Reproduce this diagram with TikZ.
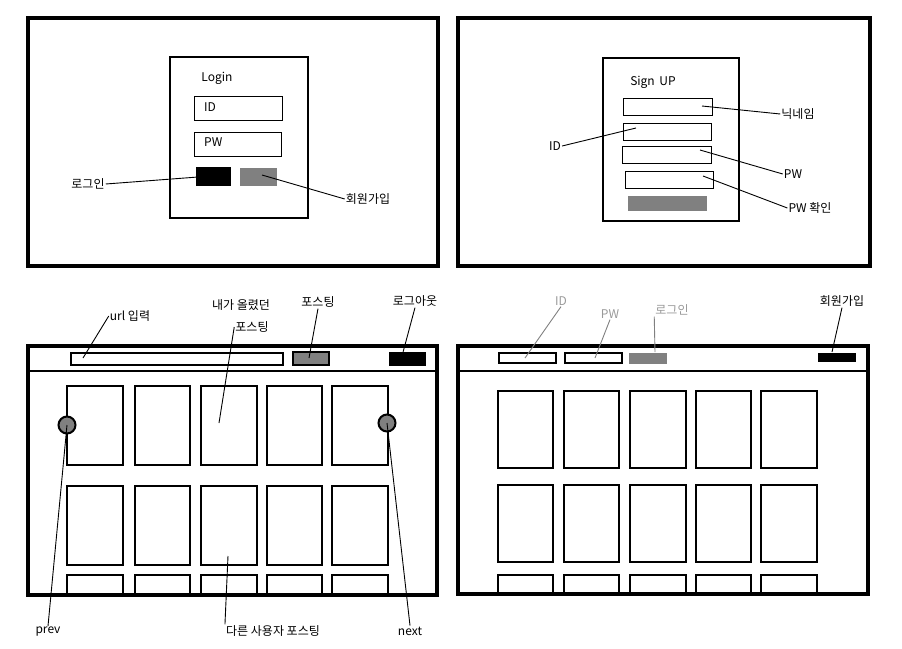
\documentclass[tikz,border=0pt]{standalone}
\usepackage{fontspec}
\setmainfont{Noto Sans CJK KR}
\begin{document}
\begin{tikzpicture}[x=1pt,y=-1pt,
  frame/.style={draw,line width=4pt},
  card/.style={draw,line width=2.8pt},
  thinbox/.style={draw,line width=1pt},
  lead/.style={draw,line width=0.9pt},
  lbl/.style={font=\fontsize{12}{13}\selectfont,inner sep=1pt},
  glbl/.style={lbl,text=gray!80}]
\useasboundingbox (0,0) rectangle (902,648);
% ---------- top-left
\draw[frame] (28,18) rectangle (438,266);
\draw[card] (170,57) rectangle (308,218);
\node[lbl] (login) at (217,78) {Login};
\draw[thinbox] (194,96) rectangle (282,120);
\node[lbl,anchor=west] at (203,107) {ID};
\draw[thinbox] (194,132) rectangle (281,156);
\node[lbl,anchor=west] at (203,142) {PW};
\fill (196,167) rectangle (231,186) coordinate (bb);
\fill[gray] (240,168) rectangle (277,186);
\node[lbl] (lg) at (88,184) {로그인};
\coordinate (lgb) at (198,177);
\draw[lead] (lg.east) -- (lgb);
\node[lbl] (join) at (368,199) {회원가입};
\coordinate (jb) at (262,175);
\draw[lead] (join.west) -- (jb);
% ---------- top-right
\draw[frame] (458,18) rectangle (870,266);
\draw[card] (603,58) rectangle (739,221);
\node[lbl] at (653,82) {Sign\, UP};
\draw[thinbox] (623,98) rectangle (712,115);
\draw[thinbox] (623,123) rectangle (711,140);
\draw[thinbox] (622,146) rectangle (711,163);
\draw[thinbox] (625,171) rectangle (713,188);
\fill[gray] (628,196) rectangle (707,211);
\node[lbl] (nick) at (798,114) {닉네임};
\coordinate (nb) at (702,106);
\draw[lead] (nb) -- (nick.west);
\node[lbl] (sid) at (555,146) {ID};
\coordinate (ib) at (636,128);
\draw[lead] (sid.east) -- (ib);
\node[lbl] (spw) at (793,174) {PW};
\coordinate (pb) at (700,150);
\draw[lead] (pb) -- (spw.west);
\node[lbl] (spw2) at (810,208) {PW 확인};
\coordinate (p2b) at (703,176);
\draw[lead] (p2b) -- (spw2.west);
% ---------- bottom-left
\draw[frame] (28,346) rectangle (437,595);
\draw[line width=2.5pt] (28,371) -- (437,371);
\draw[draw,line width=2.5pt] (71,353) rectangle (283,365);
\filldraw[fill=gray,line width=2.5pt] (293,352) rectangle (329,365);
\fill (389,352) rectangle (426,366);
\begin{scope}
\clip (28,346) rectangle (437,593);
\foreach \xa/\xb in {67/123,135/190,201/257,267/322,332/388}{
  \draw[card] (\xa,386) rectangle (\xb,465);
  \draw[card] (\xa,486) rectangle (\xb,565);
  \draw[card] (\xa,575) rectangle (\xb,640);
}
\end{scope}
\filldraw[fill=gray,line width=2pt] (67,425) circle (8.5) coordinate (pc);
\filldraw[fill=gray,line width=2pt] (387,423) circle (8.5) coordinate (nc);
\node[lbl] (url) at (130,316) {url 입력};
\coordinate (ub) at (83,358);
\draw[lead] (url.west) -- (ub);
\node[lbl] (my1) at (241,305) {내가 올렸던};
\node[lbl] (my2) at (252,327) {포스팅};
\coordinate (mb) at (219,423);
\draw[lead] (my2.west) -- (mb);
\node[lbl] (post) at (318,302) {포스팅};
\coordinate (postb) at (309,358);
\draw[lead] (post.south) -- (postb);
\node[lbl] (out) at (415,301) {로그아웃};
\coordinate (outb) at (402,356);
\draw[lead] (out.south) -- (outb);
\node[lbl] (prev) at (48,632) {prev};
\draw[lead] (pc) -- (prev.north);
\node[lbl] (next) at (410,631) {next};
\draw[lead] (nc) -- (next.north);
\node[lbl] (other) at (273,631) {다른 사용자 포스팅};
\coordinate (ob) at (228,556);
\draw[lead] (ob) -- (other.north west);
% ---------- bottom-right
\draw[frame] (458,346) rectangle (868,594);
\draw[line width=2.5pt] (458,371) -- (868,371);
\draw[line width=2.5pt] (499,353) rectangle (556,363);
\draw[line width=2.5pt] (565,353) rectangle (622,363);
\fill[gray] (629,353) rectangle (667,364);
\fill (818,353) rectangle (856,362);
\begin{scope}
\clip (458,346) rectangle (868,592);
\foreach \xa/\xb in {498/553,564/619,630/686,696/751,761/817}{
  \draw[card] (\xa,391) rectangle (\xb,468);
  \draw[card] (\xa,485) rectangle (\xb,562);
  \draw[card] (\xa,575) rectangle (\xb,640);
}
\end{scope}
\node[glbl] (rid) at (561,301) {ID};
\coordinate (ridb) at (525,358);
\draw[lead,gray] (rid.south) -- (ridb);
\node[glbl] (rpw) at (610,314) {PW};
\coordinate (rpwb) at (595,358);
\draw[lead,gray] (rpw.south) -- (rpwb);
\node[glbl] (rlg) at (672,310) {로그인};
\coordinate (rlgb) at (655,352);
\draw[lead,gray] (rlg.south west) -- (rlgb);
\node[lbl] (rjoin) at (842,301) {회원가입};
\coordinate (rjb) at (832,352);
\draw[lead] (rjoin.south) -- (rjb);
\end{tikzpicture}
\end{document}
